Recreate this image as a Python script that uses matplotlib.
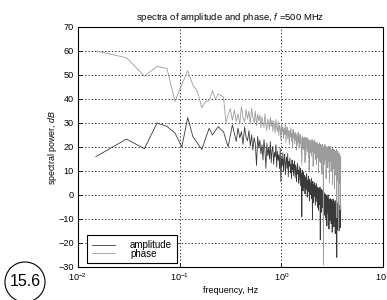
import numpy as np
import matplotlib
matplotlib.use('Agg')
import matplotlib.pyplot as plt

plt.rcParams['font.family'] = ['Liberation Sans', 'DejaVu Sans']
plt.rcParams['mathtext.fontset'] = 'custom'
plt.rcParams['mathtext.rm'] = 'Liberation Sans'
plt.rcParams['mathtext.it'] = 'Liberation Sans:italic'

# spectral lines, step of the frequency grid in Hz
df = 0.015

phase = [
    60.0, 57.2, 49.5, 53.6, 52.7, 39.0, 46.0, 51.8, 45.8, 43.0,
    36.4, 38.9, 39.3, 43.5, 39.9, 42.1, 41.5, 40.8, 30.2, 33.5,
    36.0, 31.2, 35.4, 30.6, 33.8, 29.5, 36.8, 32.1, 30.4, 35.6,
    31.8, 34.9, 29.7, 36.2, 32.4, 30.1, 35.0, 28.8, 33.6, 31.0,
    33.2, 27.9, 32.6, 30.3, 28.1, 33.8, 29.4, 26.8, 31.7, 30.2,
    27.3, 32.4, 28.6, 31.1, 26.5, 30.8, 29.2, 25.9, 31.5, 28.0,
    26.4, 30.6, 24.8, 29.1, 27.7, 22.9, 30.1, 26.3, 28.4, 23.6,
    27.9, 25.1, 29.6, 21.8, 26.7, 28.3, 23.4, 27.0, 24.6, 20.9,
    26.8, 24.2, 28.1, 22.5, 25.7, 19.8, 27.3, 23.8, 25.4, 21.3,
    26.1, 22.9, 24.7, 18.6, 25.8, 23.1, 20.4, 26.2, 22.0, 24.5,
    19.7, 25.3, 21.6, 23.9, 17.8, 12.4, 22.8, 24.6, 20.3, 23.5,
    18.9, 24.1, 21.2, 13.6, 23.8, 16.7, 22.6, 20.1, 24.0, 18.2,
    21.9, 23.3, 15.8, 22.1, 10.2, 20.7, 23.0, 17.6, 21.4, 19.3,
    22.7, 16.4, 20.9, 23.1, 18.1, 21.5, 11.9, 22.4, 19.6, 20.8,
    17.3, 22.9, 19.1, 14.8, 21.7, 18.4, 20.6, 12.7, 22.0, 17.9,
    20.2, 15.6, 21.3, 18.8, 9.4, 20.5, 17.2, 21.8, 14.1, 19.7,
    18.3, 21.1, 13.5, 19.9, 17.4, 20.8, 8.6, 18.7, 21.2, 16.0,
    19.4, 15.2, -29.0, 20.1, 17.7, 12.9, 19.6, 18.0, 21.0, 14.6,
    18.5, 16.9, 20.3, 6.8, 19.1, 17.5, 13.2, 20.0, 16.3, 18.9,
    11.4, 19.8, 17.0, 15.4, 20.4, 14.0, 18.2, 5.3, 19.3, 16.6,
    18.1, 13.8, 20.2, 15.9, 17.6, 9.7, 19.0, 16.8, 12.5, 18.4,
    15.3, 19.5, 4.2, 17.3, 14.7, 18.9, 11.0, 16.2, 19.2, 13.4,
    17.8, 2.6, 15.7, 18.6, 12.1, 16.9, 8.3, 18.0, 14.4, 17.1,
    10.5, 16.4, 19.0, -9.5, 15.0, 17.7, 11.8, 14.2, 18.3, 6.1,
    16.0, 13.1, 17.5, -14.8, 12.6, 15.8, 9.0, 17.2, 4.7, 14.9,
    11.3, 16.3, -6.2, 13.7, 8.8, 15.1,
]

amplitude = [
    16.0, 23.3, 19.3, 30.0, 28.6, 25.8, 20.0, 32.3, 24.3, 21.5,
    19.0, 23.6, 27.8, 25.0, 26.9, 28.5, 27.2, 26.4, 23.0, 20.1,
    24.7, 29.2, 25.6, 22.3, 27.9, 23.8, 26.4, 21.1, 28.3, 24.0,
    22.6, 26.8, 20.4, 25.1, 18.7, 23.9, 21.2, 12.3, 24.4, 19.6,
    22.8, 17.1, 20.9, 14.6, 23.1, 18.4, 11.2, 21.5, 16.3, 19.8,
    15.0, 22.2, 13.4, 18.6, 20.3, 12.8, 17.7, 15.9, 21.0, 11.6,
    18.2, 14.5, 16.8, 10.9, 19.4, 5.5, 15.3, 12.2, 17.6, 9.8,
    14.7, 16.9, 8.4, 13.3, 15.8, 11.1, 17.2, 7.6, 13.9, 12.0,
    15.4, 9.2, 12.7, 6.8, 14.6, 10.5, 13.0, 8.1, 11.8, 14.2,
    7.3, 12.4, 9.9, 5.6, 11.5, 13.1, 8.7, 10.3, 4.9, 12.0,
    9.1, 6.4, 11.2, 3.8, 8.9, -9.0, 10.4, 5.2, 1.7, 9.6,
    6.8, 3.1, 8.2, 0.4, 7.5, 4.6, 2.2, 8.8, 5.3, -0.9,
    6.1, 3.7, 7.9, 1.3, 4.8, -2.4, 6.6, 2.8, 5.0, 0.1,
    4.2, 7.0, -1.6, 3.5, -10.4, 5.7, 1.9, -3.2, 4.4, 2.6,
    -0.5, 5.1, 1.1, -4.3, 3.9, 0.7, -2.8, 4.7, -1.2, 2.0,
    -5.1, 3.2, -0.3, 1.6, -6.4, 2.7, -2.1, 0.9, -4.0, 3.3,
    -18.7, 1.4, -3.5, -0.8, 2.4, -7.2, 0.2, -2.6, 1.8, -5.3,
    -1.4, 0.6, -11.8, -3.9, 1.0, -6.1, -0.6, -2.3, -8.5, 0.3,
    -4.6, -1.9, -9.7, -0.2, -5.8, -3.0, -12.9, -1.1, -6.7, -2.7,
    -4.1, 0.1, -8.0, -3.3, -5.5, -14.2, -1.8, -7.4, -2.9, -10.6,
    -4.8, -1.5, -6.9, -9.3, -3.6, -12.0, -5.2, -2.0, -8.8, -4.4,
    -15.5, -3.1, -7.7, -5.9, -1.7, -10.1, -6.3, -4.0, -13.3, -2.5,
    -8.2, -5.7, -11.4, -3.8, -7.0, -16.1, -4.9, -9.0, -6.5, -2.2,
    -12.7, -5.4, -8.6, -26.0, -3.4, -10.8, -7.3, -4.5, -14.6, -6.0,
    -9.4, -3.0, -11.9, -7.8, -5.1, -15.0, -8.1, -4.2, -12.3, -6.8,
    -10.2, -5.6, -13.7, -7.5, -9.9, -4.7,
]

xticks = [1e-2, 1e-1, 1e0, 1e1]
xticklabels = ['$10^{-2}$', '$10^{-1}$', '$10^{0}$', '$10^{1}$']
yticks = list(range(-30, 80, 10))

freq = df * np.arange(1, len(phase) + 1)

fig = plt.figure(figsize=(3.87, 3.0), dpi=100)
ax = fig.add_axes([78 / 387, 1 - 267 / 300, 305 / 387, 240 / 300])

ax.semilogx(freq, amplitude, color='#3a3a3a', lw=0.6, label='amplitude')
ax.semilogx(freq, phase, color='#9c9c9c', lw=0.6, label='phase')

ax.set_xlim(1e-2, 1e1)
ax.set_ylim(-30, 70)
ax.set_xticks(xticks)
ax.set_xticklabels(xticklabels)
ax.xaxis.set_minor_locator(matplotlib.ticker.NullLocator())
ax.set_yticks(yticks)
ax.tick_params(direction='in', length=3, labelsize=6.6, pad=3, width=0.6)
ax.grid(True, which='major', color='black', linestyle=(0, (1.5, 2.5)), lw=0.6)
for s in ax.spines.values():
    s.set_linewidth(0.8)

ax.set_title('spectra of amplitude and phase, $\\mathit{f}$ =500 MHz', fontsize=6.8, pad=5)
ax.set_xlabel('frequency, Hz', fontsize=6.5, labelpad=2)
ax.set_ylabel('spectral power, $\\mathit{dB}$', fontsize=6.4, labelpad=2)
ax.yaxis.set_label_coords(-0.062, 0.5)

leg = ax.legend(loc='lower left', bbox_to_anchor=(0.03, 0.015), borderaxespad=0,
                fontsize=7, handlelength=2.4, handletextpad=1.5, labelspacing=-0.15,
                borderpad=0.5, fancybox=False, framealpha=1, edgecolor='black')
leg.get_frame().set_linewidth(0.8)

fig.text(25 / 387, 1 - 282 / 300, '15.6', fontsize=11.5, ha='center', va='center',
         bbox=dict(boxstyle='circle,pad=0.28', fc='white', ec='black', lw=0.8))

fig.savefig('out.png', dpi=100)
